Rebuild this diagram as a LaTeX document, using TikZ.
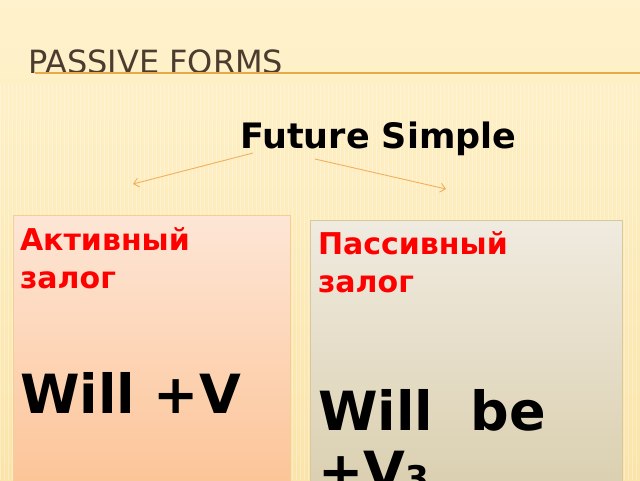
\documentclass[tikz,border=0pt]{standalone}
\usepackage{fontspec}
\setmainfont{DejaVu Sans}
\usetikzlibrary{positioning, arrows.meta}

\definecolor{bgcream}{RGB}{255,242,204}
\definecolor{bgdeep}{RGB}{250,228,170}
\definecolor{titlebrown}{RGB}{74,60,46}
\definecolor{lineorange}{RGB}{232,169,74}
\definecolor{arroworange}{RGB}{240,176,96}
\definecolor{peachtop}{RGB}{253,230,214}
\definecolor{peachbot}{RGB}{252,190,140}
\definecolor{peachedge}{RGB}{243,207,150}
\definecolor{greytop}{RGB}{240,235,224}
\definecolor{greybot}{RGB}{214,202,166}
\definecolor{greyedge}{RGB}{215,200,160}
\definecolor{voicered}{RGB}{255,0,0}

\begin{document}
\begin{tikzpicture}[
    x=1pt, y=-1pt,
    every node/.style={inner sep=0pt, outer sep=0pt},
    title/.style={font=\fontsize{32}{38}\selectfont, text=titlebrown, anchor=base west},
    tense/.style={font=\bfseries\fontsize{35}{42}\selectfont, anchor=base west},
    voicebox/.style={draw, line width=0.8pt, anchor=north west, minimum height=320pt},
    voice/.style={font=\bfseries\fontsize{30}{38}\selectfont, text=voicered, anchor=base west, align=left},
    formula/.style={font=\bfseries\fontsize{54}{60}\selectfont, anchor=base west, align=left},
    branch/.style={draw=arroworange, line width=0.9pt, -{Straight Barb[length=5pt, width=9pt]}}
]
   % background
   \clip (0,0) rectangle (640,480);
   \shade[top color=bgcream, bottom color=bgdeep] (0,0) rectangle (640,480);
   \foreach \s in {0,4,...,640}
      \draw[white, opacity=0.3, line width=0.7pt] (\s,85) -- (\s,480);

   % heading
   \node[title] (head) at (28,73) {PASSIVE FORMS};
   \draw[lineorange, line width=1.5pt] (35,73) -- (640,73);

   \node[tense] (future) at (240,148) {Future Simple};

   % the two boxes
   \node[voicebox, draw=peachedge, top color=peachtop, bottom color=peachbot,
         minimum width=277pt] (active) at (13,215) {};
   \node[voicebox, draw=greyedge, top color=greytop, bottom color=greybot,
         minimum width=312pt] (passive) at (310,220) {};

   % branches
   \coordinate (fl) at (253,153);
   \coordinate (fr) at (315,159);
   \coordinate (al) at (133,184);
   \coordinate (ar) at (446,189);
   \draw[branch] (fl) -- (al);
   \draw[branch] (fr) -- (ar);

   % texts (anchored on the last line)
   \node[voice] (actname) at (20,288) {Активный\\залог};
   \node[formula] (actform) at (20,413) {Will +V};
   \node[voice] (pasname) at (318,292) {Пассивный\\залог};
   \node[formula] (pasform) at (318,490) {Will~~be\\+V{\fontsize{34}{34}\selectfont 3}};
\end{tikzpicture}
\end{document}
